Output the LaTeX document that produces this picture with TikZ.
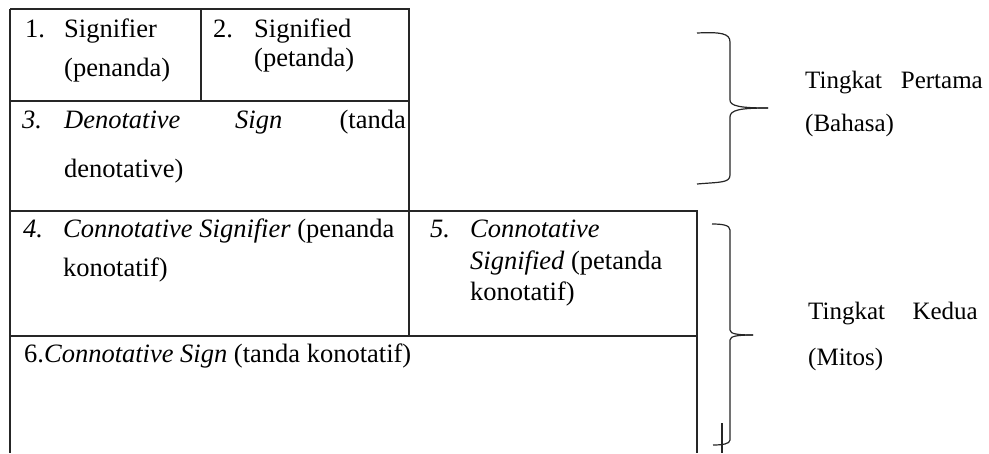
\documentclass[tikz,border=0pt]{standalone}
\usepackage{fontspec}
\setmainfont{Liberation Serif}
\begin{document}
\begin{tikzpicture}[x=1pt,y=-1pt,
  txt/.style={anchor=base west,inner sep=0pt,font=\fontsize{26.5}{31}\selectfont},
  txtr/.style={anchor=base east,inner sep=0pt,font=\fontsize{26.5}{31}\selectfont},
  lbl/.style={anchor=base west,inner sep=0pt,font=\fontsize{25}{30}\selectfont},
  lblr/.style={anchor=base east,inner sep=0pt,font=\fontsize{25}{30}\selectfont},
  rule/.style={line width=1.4pt,draw=black!85},
  brace/.style={line width=1.2pt,draw=black!85}]
\useasboundingbox (0,0) rectangle (989,453);
% coordinates of the table
\coordinate (tl) at (10,9);
\coordinate (tm) at (201,9);
\coordinate (tr) at (409,9);
\coordinate (ml) at (10,101);
\coordinate (mm) at (201,101);
\coordinate (mr) at (409,101);
\coordinate (bl) at (10,211);
\coordinate (bm) at (409,211);
\coordinate (br) at (697,211);
\coordinate (cl) at (10,336);
\coordinate (cm) at (409,336);
\coordinate (cr) at (697,336);
\coordinate (el) at (10,453);
\coordinate (er) at (697,453);
% top table
\draw[rule] (tl) -- (tr) -- (bm);
\draw[rule] (tm) -- (mm);
\draw[rule] (ml) -- (mr);
\draw[rule] (tl) -- (el);
% lower table
\draw[rule] (bl) -- (br) -- (er);
\draw[rule] (bm) -- (cm);
\draw[rule] (cl) -- (cr);
% cell texts
\node[txt] (n1) at (25,37) {1.};
\node[txt] (t1) at (64,37) {Signifier};
\node[txt] (t1b) at (64,76) {(penanda)};
\node[txt] (n2) at (213,37) {2.};
\node[txt] (t2) at (254,37) {Signified};
\node[txt] (t2b) at (254,66) {(petanda)};
\node[txt] (n3) at (22,128) {\itshape 3.};
\node[txt] (t3a) at (64,128) {\itshape Denotative};
\node[txt] (t3b) at (235,128) {\itshape Sign};
\node[txtr] (t3c) at (406,128) {(tanda};
\node[txt] (t3d) at (64,177) {denotative)};
\node[txt] (n4) at (23,237) {\itshape 4.};
\node[txt] (t4) at (63,237) {\itshape Connotative Signifier\/ \upshape(penanda};
\node[txt] (t4b) at (63,276) {konotatif)};
\node[txt] (n5) at (430,237) {\itshape 5.};
\node[txt] (t5) at (470,237) {\itshape Connotative};
\node[txt] (t5b) at (470,269) {\itshape Signified\/ \upshape(petanda};
\node[txt] (t5c) at (470,300) {konotatif)};
\node[txt] (t6) at (24,362) {6.\itshape Connotative Sign\/ \upshape(tanda konotatif)};
% braces
\coordinate (b1t) at (697,33);
\coordinate (b1m) at (768,108);
\coordinate (b1b) at (697,184);
\draw[brace] (b1t) .. controls (720,32) and (730,33) .. (730,42) -- (730,100)
  .. controls (730,106) and (740,108) .. (b1m);
\draw[brace] (b1m) .. controls (740,108) and (730,110) .. (730,117) -- (730,175)
  .. controls (730,183) and (720,182) .. (b1b);
\coordinate (b2t) at (712,224);
\coordinate (b2m) at (753,335);
\coordinate (b2b) at (713,445);
\draw[brace] (b2t) .. controls (722,224) and (730,225) .. (730,230) -- (730,330)
  .. controls (730,334) and (738,335) .. (b2m);
\draw[brace] (b2m) .. controls (738,335) and (730,336) .. (730,340) -- (730,440)
  .. controls (730,444) and (722,445) .. (b2b);
\coordinate (k1) at (722,423);
\coordinate (k2) at (722,453);
\draw[brace] (k1) -- (k2);
% level labels
\node[lbl] (p1) at (805,88) {Tingkat};
\node[lblr] (p2) at (983,88) {Pertama};
\node[lbl] (p3) at (805,131) {(Bahasa)};
\node[lbl] (q1) at (808,319) {Tingkat};
\node[lblr] (q2) at (978,319) {Kedua};
\node[lbl] (q3) at (808,365) {(Mitos)};
\end{tikzpicture}
\end{document}
